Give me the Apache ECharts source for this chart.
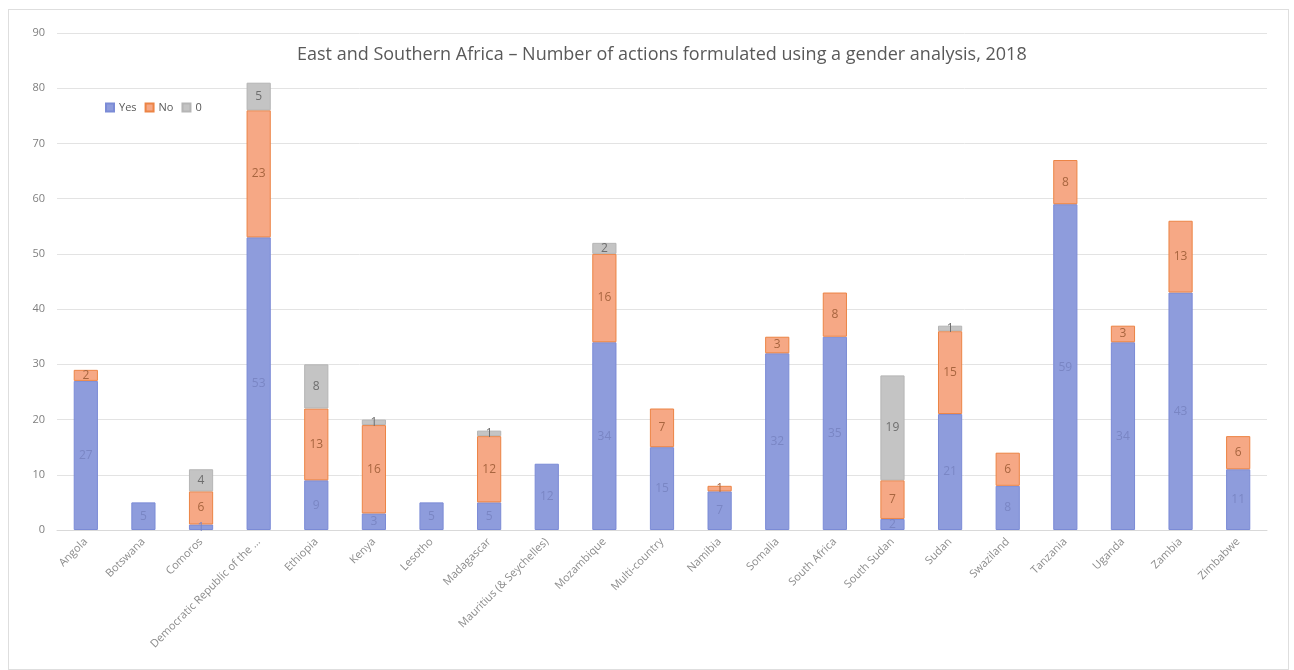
<!DOCTYPE html>
<html>
<head>
<meta charset="utf-8">
<script src="https://cdn.jsdelivr.net/npm/echarts@6/dist/echarts.min.js"></script>
<style>
html,body{margin:0;padding:0;background:#fff;}
#frame{position:absolute;left:8px;top:9px;width:1281px;height:661px;border:1px solid #dedede;box-sizing:border-box;}
#c{position:absolute;left:0;top:0;width:1294px;height:670px;}
</style>
</head>
<body>
<div id="frame"></div>
<div id="c"></div>
<script>
const categories = ["Angola","Botswana","Comoros","Democratic Republic of the ...","Ethiopia","Kenya","Lesotho","Madagascar","Mauritius (& Seychelles)","Mozambique","Multi-country","Namibia","Somalia","South Africa","South Sudan","Sudan","Swaziland","Tanzania","Uganda","Zambia","Zimbabwe"];
const yesValues = [27,5,1,53,9,3,5,5,12,34,15,7,32,35,2,21,8,59,34,43,11];
const noValues  = [2,0,6,23,13,16,0,12,0,16,7,1,3,8,7,15,6,8,3,13,6];
const zeroValues= [0,0,4,5,8,1,0,1,0,2,0,0,0,0,19,1,0,0,0,0,0];
const seriesNames = ["Yes","No","0"];

const chart = echarts.init(document.getElementById('c'));
function lbl(color){
  return {show:true, position:'inside', color:color, fontSize:12, fontFamily:'Open Sans',
    formatter: p => p.value ? p.value : ''};
}
const nz = arr => arr.map(v => v === 0 ? null : v);
chart.setOption({
  animation:false,
  title:{text:'East and Southern Africa \u2013 Number of actions formulated using a gender analysis, 2018',
    left:292, top:41, textStyle:{color:'#595959', fontSize:18, fontWeight:'normal', fontFamily:'Open Sans'}},
  legend:{data:seriesNames, left:100, top:97, itemWidth:8, itemHeight:8, itemGap:8, icon:'rect',
    textStyle:{color:'#595959', fontSize:11, fontFamily:'Open Sans'}},
  grid:{left:57, right:27, top:33, bottom:140},
  xAxis:{type:'category', data:categories,
    axisLine:{lineStyle:{color:'#d9d9d9'}}, axisTick:{show:false},
    axisLabel:{rotate:45, interval:0, color:'#8c8c8c', fontSize:11, fontFamily:'Open Sans', margin:10}},
  yAxis:{type:'value', min:0, max:90, interval:10,
    axisLine:{show:false}, axisTick:{show:false},
    axisLabel:{color:'#7f7f7f', fontSize:11, fontFamily:'Open Sans', margin:12},
    splitLine:{lineStyle:{color:'#e3e3e3'}}},
  series:[
    {name:'Yes', type:'bar', stack:'s', data:nz(yesValues), barWidth:'42%',
      itemStyle:{color:'#8e9cdc', borderColor:'#7b8bd6', borderWidth:1}, label:lbl('#7a86c4')},
    {name:'No', type:'bar', stack:'s', data:nz(noValues),
      itemStyle:{color:'#f6a885', borderColor:'#ec8445', borderWidth:1}, label:lbl('#a8653f')},
    {name:'0', type:'bar', stack:'s', data:nz(zeroValues),
      itemStyle:{color:'#c4c4c4', borderColor:'#b5b5b5', borderWidth:1}, label:lbl('#6e6e6e')}
  ]
});
</script>
</body>
</html>
